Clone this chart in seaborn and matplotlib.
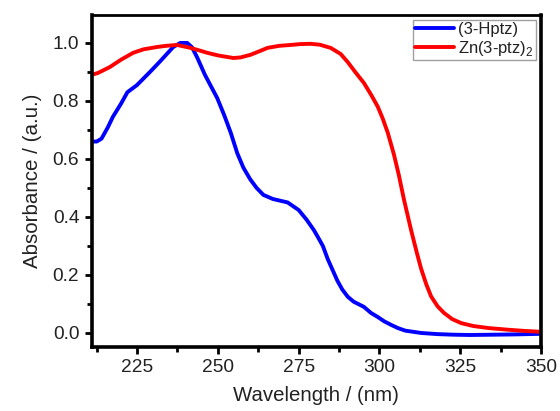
import numpy as np
import pandas as pd
import matplotlib
matplotlib.use("Agg")
import matplotlib.pyplot as plt
import seaborn as sns
from matplotlib.ticker import MultipleLocator

# Data
hptz_wl = [211, 212.5, 214, 216, 217.5, 220, 222, 225, 229, 232, 236.2, 238.4, 240.5,
           242, 243.6, 246, 249.8, 252, 254, 256, 257.9, 260, 262, 264.1, 267, 271.6,
           275, 277.5, 279.7, 281, 282.5, 284, 285.6, 287, 288.5, 290.2, 292, 295.2, 297.4, 299.5,
           301.5, 303.6, 305.7, 308, 312.9, 318, 323, 328, 335, 342, 350]
hptz_abs = [0.66, 0.66, 0.67, 0.71, 0.745, 0.79, 0.83, 0.855, 0.90, 0.935, 0.986, 1.0, 1.0,
            0.985, 0.95, 0.89, 0.81, 0.75, 0.69, 0.62, 0.57, 0.53, 0.50, 0.476, 0.462, 0.45,
            0.424, 0.39, 0.355, 0.33, 0.30, 0.255, 0.215, 0.18, 0.15, 0.125, 0.108, 0.09, 0.069, 0.055,
            0.04, 0.028, 0.017, 0.008, 0.0, -0.004, -0.006, -0.007, -0.006, -0.005, -0.003]

zn_wl = [211, 213, 216.6, 220, 223.8, 227, 231.2, 234, 237.4, 241.5, 244, 246.7, 250,
         254.8, 257, 260.1, 263, 265.4, 269, 272.5, 275.5, 278.7, 281.5, 284.9, 288,
         290.2, 292.5, 295.2, 297.5, 299.5, 301, 302.6, 304.5, 306, 307.6, 309.8, 311.5,
         312.9, 314.5, 316, 318, 320, 322.5, 325.3, 329, 333.7, 340, 345, 350]
zn_abs = [0.89, 0.897, 0.917, 0.942, 0.966, 0.978, 0.986, 0.99, 0.993, 0.983, 0.975, 0.966, 0.957,
          0.948, 0.95, 0.959, 0.972, 0.983, 0.99, 0.993, 0.996, 0.997, 0.994, 0.983, 0.962,
          0.934, 0.90, 0.862, 0.82, 0.78, 0.74, 0.69, 0.615, 0.545, 0.46, 0.355, 0.28,
          0.222, 0.168, 0.126, 0.092, 0.069, 0.048, 0.034, 0.024, 0.017, 0.011, 0.007, 0.004]

df = pd.concat([
    pd.DataFrame({"wl": hptz_wl, "abs": hptz_abs, "s": "(3-Hptz)"}),
    pd.DataFrame({"wl": zn_wl, "abs": zn_abs, "s": r"Zn(3-ptz)$_2$"}),
])

sns.set_theme(style="white")
plt.rcParams['font.family'] = ['Liberation Sans', 'DejaVu Sans']
plt.rcParams['mathtext.fontset'] = 'custom'
plt.rcParams['mathtext.rm'] = 'Liberation Sans'

fig = plt.figure(figsize=(5.6, 4.11), dpi=100)
ax = fig.add_axes([0.164, 0.156, 0.802, 0.808])

sns.lineplot(data=df, x="wl", y="abs", hue="s", palette=["#0000ff", "#ff0000"],
             linewidth=2.8, ax=ax, sort=True)

ax.set_xlim(211, 350)
ax.set_ylim(-0.048, 1.097)
ax.xaxis.set_major_locator(MultipleLocator(25))
ax.xaxis.set_minor_locator(MultipleLocator(12.5))
ax.yaxis.set_major_locator(MultipleLocator(0.2))
ax.yaxis.set_minor_locator(MultipleLocator(0.1))
ax.tick_params(which="both", direction="out", bottom=True, left=True, top=False, right=False,
               color="black", width=2, labelsize=13.8, labelcolor="#222222")
ax.tick_params(which="major", length=5, pad=4)
ax.tick_params(which="minor", length=3.5)
ax.yaxis.set_major_formatter(matplotlib.ticker.FormatStrFormatter("%.1f"))

for side in ["left", "bottom", "right"]:
    ax.spines[side].set_linewidth(2.6)
    ax.spines[side].set_color("black")
ax.spines["top"].set_linewidth(2.0)
ax.spines["top"].set_color("black")

ax.set_xlabel("Wavelength / (nm)", fontsize=14.7, color="#222222", labelpad=7)
ax.set_ylabel("Absorbance / (a.u.)", fontsize=14.8, color="#222222", labelpad=8)

leg = ax.legend(loc="upper right", fontsize=12, frameon=True, fancybox=False,
                borderaxespad=0.3, handlelength=2.3, handletextpad=0.25,
                borderpad=0.15, labelspacing=0.1)
leg.get_frame().set_edgecolor("#888888")
leg.get_frame().set_linewidth(1.0)
leg.set_title(None)
for t in leg.get_texts():
    t.set_color("#222222")

fig.savefig("out.png", dpi=100)
